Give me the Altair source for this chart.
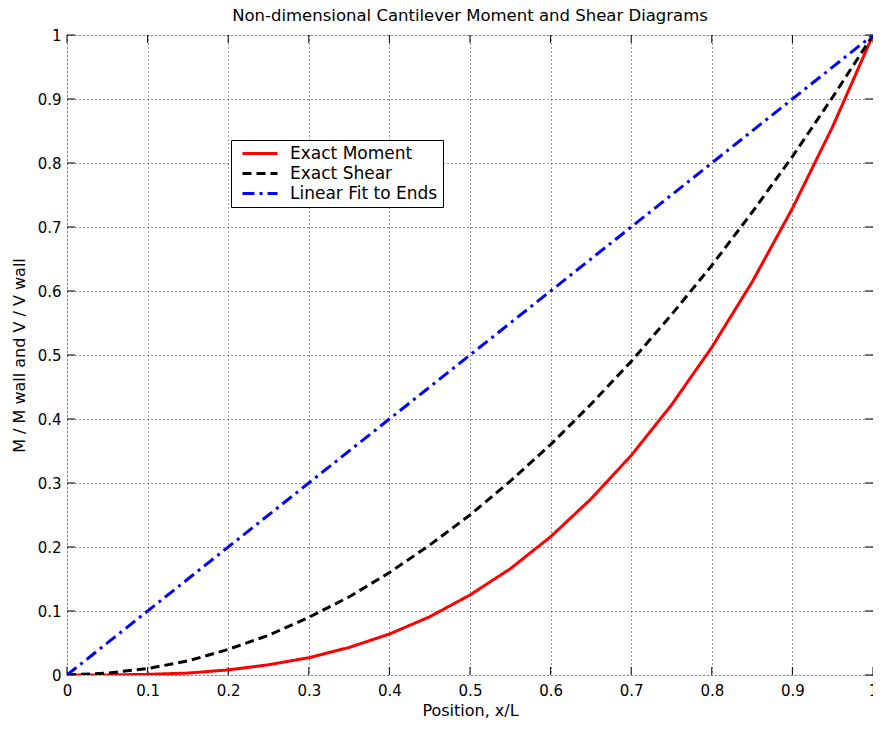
import altair as alt
import pandas as pd

# x positions (x/L)
x_pos = [0, 0.05, 0.1, 0.15, 0.2, 0.25, 0.3, 0.35, 0.4, 0.45, 0.5,
         0.55, 0.6, 0.65, 0.7, 0.75, 0.8, 0.85, 0.9, 0.95, 1.0]
moment = [0, 0.0001, 0.001, 0.003, 0.008, 0.016, 0.027, 0.043, 0.064, 0.091, 0.125,
          0.166, 0.216, 0.275, 0.343, 0.422, 0.512, 0.614, 0.729, 0.857, 1.0]
shear = [0, 0.003, 0.01, 0.022, 0.04, 0.062, 0.09, 0.122, 0.16, 0.203, 0.25,
         0.303, 0.36, 0.423, 0.49, 0.563, 0.64, 0.723, 0.81, 0.903, 1.0]
linear_x = [0, 1.0]
linear_y = [0, 1.0]

series_names = ["Exact Moment", "Exact Shear", "Linear Fit to Ends"]
series_colors = ["#ff0000", "#000000", "#0000ff"]
series_dash = [[1, 0], [9, 5], [12, 5, 3, 5]]
tick_vals = [0, 0.1, 0.2, 0.3, 0.4, 0.5, 0.6, 0.7, 0.8, 0.9, 1.0]

rows = []
for i, (xv, yv) in enumerate(zip(x_pos, moment)):
    rows.append({"x": xv, "y": yv, "series": series_names[0], "order": i})
for i, (xv, yv) in enumerate(zip(x_pos, shear)):
    rows.append({"x": xv, "y": yv, "series": series_names[1], "order": i})
for i, (xv, yv) in enumerate(zip(linear_x, linear_y)):
    rows.append({"x": xv, "y": yv, "series": series_names[2], "order": i})
df = pd.DataFrame(rows)
ticks = pd.DataFrame({"t": tick_vals})

W, H = 806, 640
FONT = "DejaVu Sans"

xscale = alt.Scale(domain=[0, 1], nice=False, zero=False)
yscale = alt.Scale(domain=[0, 1], nice=False, zero=False)

legend_opts = dict(title=None, orient="none", legendX=164, legendY=105,
                   fillColor="white", strokeColor="black", padding=5,
                   symbolType="M-2.5,0H2.5", symbolSize=196,
                   symbolStrokeWidth=3, labelFontSize=17,
                   labelFont=FONT, labelColor="#000", labelOffset=21.5,
                   rowPadding=2, symbolOffset=15.5, labelLimit=300)

lines = alt.Chart(df).mark_line(strokeWidth=3, clip=True).encode(
    x=alt.X("x:Q", scale=xscale,
            axis=alt.Axis(values=tick_vals, format="~g", title="Position, x/L",
                          grid=True, gridColor="#000", gridDash=[1, 3], gridOpacity=0.8,
                          domain=False, ticks=False, labelPadding=8,
                          labelFontSize=15, titleFontSize=16, titleFontWeight="normal",
                          labelFont=FONT, titleFont=FONT, titlePadding=4, labelColor="#000",
                          titleColor="#000", labelFlush=False)),
    y=alt.Y("y:Q", scale=yscale,
            axis=alt.Axis(values=tick_vals, format="~g", title="M / M wall and V / V wall",
                          grid=True, gridColor="#000", gridDash=[1, 3], gridOpacity=0.8,
                          domain=False, ticks=False, labelPadding=6,
                          labelFontSize=15, titleFontSize=16, titleFontWeight="normal",
                          labelFont=FONT, titleFont=FONT, titlePadding=10, labelColor="#000",
                          titleColor="#000", labelFlush=False)),
    color=alt.Color("series:N",
                    scale=alt.Scale(domain=series_names, range=series_colors),
                    legend=alt.Legend(**legend_opts)),
    strokeDash=alt.StrokeDash("series:N",
                              scale=alt.Scale(domain=series_names, range=series_dash),
                              legend=alt.Legend(**legend_opts)),
    order="order:Q",
)

TL = 8
xt_bottom = alt.Chart(ticks).mark_rule(color="#000", strokeWidth=1).encode(
    x=alt.X("t:Q", scale=xscale), y=alt.value(H), y2=alt.value(H - TL))
xt_top = alt.Chart(ticks).mark_rule(color="#000", strokeWidth=1).encode(
    x=alt.X("t:Q", scale=xscale), y=alt.value(0), y2=alt.value(TL))
yt_left = alt.Chart(ticks).mark_rule(color="#000", strokeWidth=1).encode(
    y=alt.Y("t:Q", scale=yscale), x=alt.value(0), x2=alt.value(TL))
yt_right = alt.Chart(ticks).mark_rule(color="#000", strokeWidth=1).encode(
    y=alt.Y("t:Q", scale=yscale), x=alt.value(W), x2=alt.value(W - TL))

chart = alt.layer(xt_bottom, xt_top, yt_left, yt_right, lines).properties(
    width=W, height=H,
    title=alt.Title("Non-dimensional Cantilever Moment and Shear Diagrams",
                    fontSize=16.5, font=FONT, fontWeight="normal", color="#000", offset=4),
    autosize=alt.AutoSizeParams(type="none"),
    padding={"left": 59, "top": 27, "right": 0, "bottom": 46},
).configure_view(stroke="#000", strokeWidth=1).configure(background="white")

chart.save("out.html", embed_options={"renderer": "svg", "actions": False})
